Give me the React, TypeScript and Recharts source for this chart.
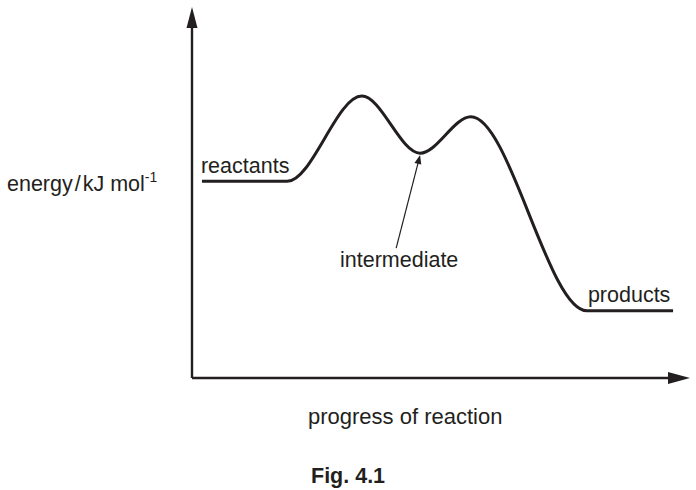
import { LineChart, Line, XAxis, YAxis, ReferenceLine, ReferenceDot } from "recharts";

// energy profile (progress 0-100, energy 0-100)
const progress = [2, 19.1, 34.1, 45.8, 56, 79.3, 96.6];
const energy = [53, 53, 76, 60.6, 70.4, 18.1, 18.1];

const profile = progress.map((p, i) => ({ progress: p, energy: energy[i] }));

const xAxisSegment = [
	{ x: 0, y: 0 },
	{ x: 100, y: 0 },
];
const yAxisSegment = [
	{ x: 0, y: 0 },
	{ x: 0, y: 100 },
];
const intermediatePointer = [
	{ x: 41, y: 35 },
	{ x: 45.8, y: 60.1 },
];

const INK = "#231f20";
const FONT = "'Liberation Sans', Arial, Helvetica, sans-serif";

function arrowShape(headLen: number, headHalf: number, width: number) {
	return (p: any) => {
		const { x1, y1, x2, y2 } = p;
		const dx = x2 - x1;
		const dy = y2 - y1;
		const len = Math.hypot(dx, dy) || 1;
		const ux = dx / len;
		const uy = dy / len;
		const bx = x2 - ux * headLen;
		const by = y2 - uy * headLen;
		const pts = [
			`${x2},${y2}`,
			`${bx - uy * headHalf},${by + ux * headHalf}`,
			`${bx + uy * headHalf},${by - ux * headHalf}`,
		].join(" ");
		return (
			<g>
				<line x1={x1} y1={y1} x2={bx + ux} y2={by + uy} stroke={INK} strokeWidth={width} />
				<polygon points={pts} fill={INK} />
			</g>
		);
	};
}

function textLabel(text: string, dx: number, dy: number, anchor = "start") {
	return (props: any) => {
		const vb = props.viewBox ?? {};
		const x = (vb.x ?? 0) + (vb.width ?? 0) / 2;
		const y = (vb.y ?? 0) + (vb.height ?? 0) / 2;
		return (
			<text
				x={x + dx}
				y={y + dy}
				textAnchor={anchor}
				fill={INK}
				fontSize={21.5}
				fontFamily={FONT}
			>
				{text}
			</text>
		);
	};
}

export default function App() {
	return (
		<div style={{ position: "absolute", left: 0, top: 0, width: 696, height: 490, background: "#fff" }}>
			<LineChart
				width={696}
				height={490}
				data={profile}
				margin={{ top: 7, right: 6, bottom: 112, left: 192 }}
			>
				<XAxis dataKey="progress" type="number" domain={[0, 100]} hide />
				<YAxis type="number" domain={[0, 100]} hide />
				<ReferenceLine
					segment={yAxisSegment}
					ifOverflow="visible"
					shape={arrowShape(21, 5.5, 2.4)}
				/>
				<ReferenceLine
					segment={xAxisSegment}
					ifOverflow="visible"
					shape={arrowShape(22, 6, 2.4)}
				/>
				<Line
					type="monotone"
					dataKey="energy"
					stroke={INK}
					strokeWidth={3}
					dot={false}
					activeDot={false}
					isAnimationActive={false}
				/>
				<ReferenceLine
					segment={intermediatePointer}
					ifOverflow="visible"
					shape={arrowShape(9, 3.5, 1.2)}
				/>
				<ReferenceDot
					x={progress[0]}
					y={energy[0]}
					r={0}
					fill="none"
					stroke="none"
					label={{ content: textLabel("reactants", -1, -8.5) }}
				/>
				<ReferenceDot
					x={progress[5]}
					y={energy[5]}
					r={0}
					fill="none"
					stroke="none"
					label={{ content: textLabel("products", 1, -9) }}
				/>
				<ReferenceDot
					x={intermediatePointer[0].x}
					y={intermediatePointer[0].y}
					r={0}
					fill="none"
					stroke="none"
					label={{ content: textLabel("intermediate", 3, 19, "middle") }}
				/>
			</LineChart>
			<svg
				width={696}
				height={490}
				style={{ position: "absolute", left: 0, top: 0, pointerEvents: "none" }}
			>
				<text x={7} y={191} fill={INK} fontSize={21.5} fontFamily={FONT}>
					<tspan>energy</tspan>
					<tspan dx={2}>/</tspan>
					<tspan dx={2}>kJ mol</tspan>
					<tspan dy={-9} fontSize={14}>-1</tspan>
				</text>
				<text x={308} y={424} fill={INK} fontSize={22} fontFamily={FONT}>
					progress of reaction
				</text>
				<text x={311} y={483} fill={INK} fontSize={21.5} fontWeight="bold" fontFamily={FONT}>
					Fig. 4.1
				</text>
			</svg>
		</div>
	);
}
